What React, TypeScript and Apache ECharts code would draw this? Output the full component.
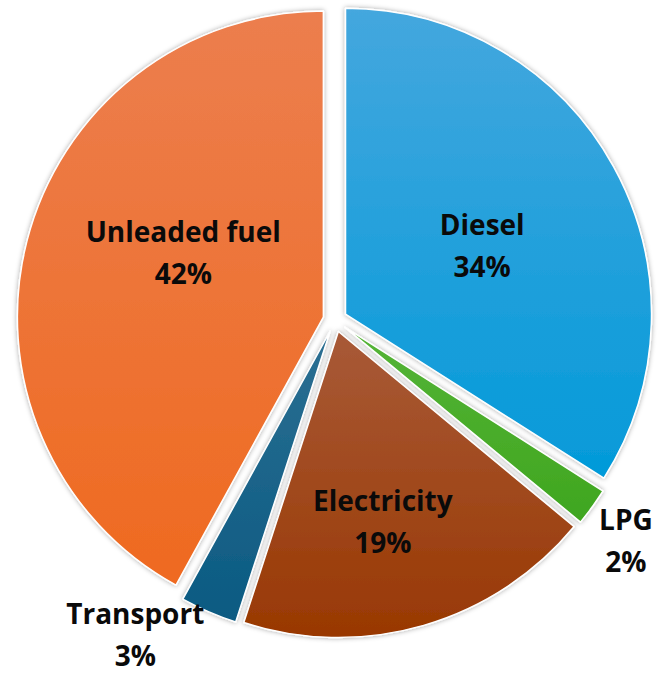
import React, { useEffect, useRef } from "react";
import * as echarts from "echarts";

// ---- data ----
const categories: string[] = ["Diesel", "LPG", "Electricity", "Transport", "Unleaded fuel"];
const values: number[] = [34, 2, 19, 3, 42];

// ---- styles (separate from data) ----
const topColors: string[] = ["#44a7de", "#55b437", "#a85a38", "#2c6f92", "#ec7e4e"];
const bottomColors: string[] = ["#039ad9", "#3fa61f", "#993802", "#0a5a82", "#ef6a20"];
// label nudges (dx, dy) from the default inside anchor
const labelNudges: number[][] = [
  [0, 6],
  [155, 121],
  [1, 40],
  [-133, 160],
  [11, -26],
];

export default function App() {
  const ref = useRef<HTMLDivElement>(null);
  useEffect(() => {
    if (!ref.current) return;
    const chart = echarts.init(ref.current, undefined, { renderer: "svg" });
    chart.setOption({
      animation: false,
      backgroundColor: "#ffffff",
      series: [
        {
          type: "pie",
          center: [335, 320],
          radius: [0, 306],
          startAngle: 90,
          clockwise: true,
          selectedMode: "multiple",
          selectedOffset: 12,
          avoidLabelOverlap: false,
          silent: true,
          itemStyle: {
            borderColor: "#ffffff",
            borderWidth: 1.5,
            shadowBlur: 5,
            shadowColor: "rgba(0,0,0,0.35)",
          },
          label: {
            show: true,
            position: "inside",
            formatter: "{b}\n{c}%",
            fontFamily: "Open Sans",
            fontWeight: "bold",
            fontSize: 28,
            lineHeight: 42,
            color: "#0a0a0a",
          },
          labelLine: { show: false },
          labelLayout: (params: any) => ({
            dx: labelNudges[params.dataIndex][0],
            dy: labelNudges[params.dataIndex][1],
          }),
          data: categories.map((name, i) => ({
            name,
            value: values[i],
            selected: true,
            itemStyle: {
              color: {
                type: "linear",
                x: 0,
                y: 0,
                x2: 0,
                y2: 1,
                colorStops: [
                  { offset: 0, color: topColors[i] },
                  { offset: 1, color: bottomColors[i] },
                ],
              },
            },
          })),
        },
      ],
    });
    return () => chart.dispose();
  }, []);
  return (
    <div
      ref={ref}
      style={{ position: "absolute", left: 0, top: 0, width: 659, height: 673 }}
    />
  );
}
